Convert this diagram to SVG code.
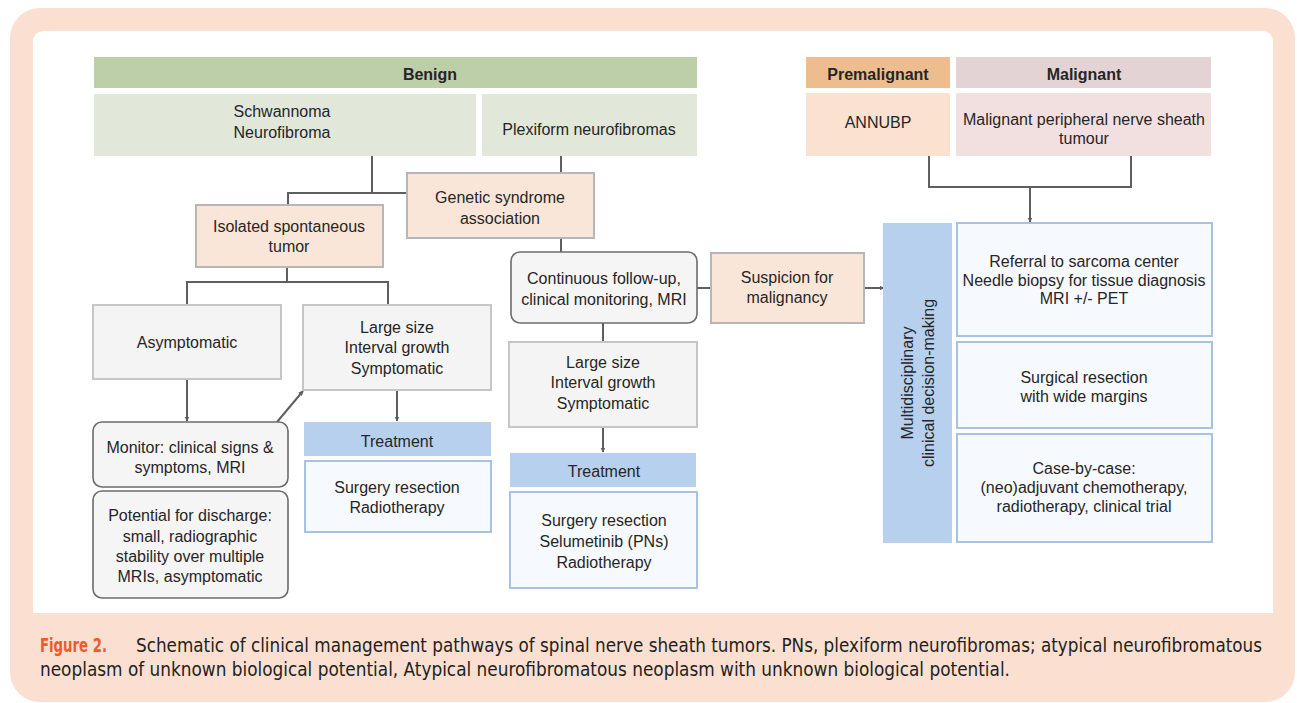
<svg xmlns="http://www.w3.org/2000/svg" width="1297" height="703" viewBox="0 0 1297 703">
<defs>
<marker id="ah" viewBox="0 0 10 10" refX="9" refY="5" markerWidth="5" markerHeight="5" orient="auto" markerUnits="userSpaceOnUse">
<path d="M0,0 L10,5 L0,10 z" fill="#5f5f5f"/>
</marker>
<style>
text{font-family:"Liberation Sans",Arial,Helvetica,sans-serif;font-size:16px;fill:#262626;text-anchor:middle}
.b{font-weight:bold}
.hdrG{fill:#bccfa8}
.subG{fill:#e1e8d9}
.hdrP{fill:#eebd8f}
.subP{fill:#fae1d0}
.hdrM{fill:#e4d3d4}
.subM{fill:#f2e0e1}
.beige{fill:#fae6d8;stroke:#b7b7b7;stroke-width:2}
.gray{fill:#f4f4f4;stroke:#c6c6c6;stroke-width:2}
.rnd{fill:#f5f5f5;stroke:#6c6c6c;stroke-width:1.6}
.bhdr{fill:#b6d0ee}
.bbox{fill:#f6f9fe;stroke:#a9c2e2;stroke-width:2}
.c{fill:none;stroke:#5f5f5f;stroke-width:2}
.cap{font-family:"Liberation Sans Narrow","DejaVu Sans Condensed","Liberation Sans",sans-serif;font-size:19px;text-anchor:start;fill:#231f20}
</style>
</defs>
<!-- frame -->
<path d="M40,8 H1265 A30,30 0 0 1 1295,38 V672 A30,30 0 0 1 1265,702 H40 A30,30 0 0 1 10,672 V38 A30,30 0 0 1 40,8 Z" fill="#fbe0d2"/>
<path d="M43,31 H1263 A10,10 0 0 1 1273,41 V613 H33 V41 A10,10 0 0 1 43,31 Z" fill="#ffffff"/>

<g id="connectors">
<polyline class="c" points="372,156 372,193"/>
<polyline class="c" points="288,204 288,193 406,193"/>
<polyline class="c" points="561,156 561,173"/>
<polyline class="c" points="561,238 561,252"/>
<polyline class="c" points="287,268 287,282"/>
<polyline class="c" points="187,305 187,282 388,282 388,305"/>
<polyline class="c" points="187,379 187,421" marker-end="url(#ah)"/>
<polyline class="c" points="277,422 303,391" marker-end="url(#ah)"/>
<polyline class="c" points="397,390 397,421" marker-end="url(#ah)"/>
<polyline class="c" points="603,323 603,342"/>
<polyline class="c" points="603,427 603,452" marker-end="url(#ah)"/>
<polyline class="c" points="697,288 711,288"/>
<polyline class="c" points="864,288 884,288" marker-end="url(#ah)"/>
<polyline class="c" points="929,156 929,187 1131,187 1131,156"/>
<polyline class="c" points="1030,187 1030,222" marker-end="url(#ah)"/>
</g>

<g id="benign-header"><rect class="hdrG" x="94" y="57" width="603" height="31"/><text class="b" x="430" y="80">Benign</text></g>
<g id="schwannoma"><rect class="subG" x="94" y="94" width="382" height="62"/><text x="282" y="117">Schwannoma</text><text x="282" y="138">Neurofibroma</text></g>
<g id="plexiform"><rect class="subG" x="482" y="94" width="215" height="62"/><text x="589" y="135">Plexiform neurofibromas</text></g>

<g id="premalignant-header"><rect class="hdrP" x="806" y="57" width="144" height="31"/><text class="b" x="878" y="80">Premalignant</text></g>
<g id="malignant-header"><rect class="hdrM" x="956" y="57" width="255" height="31"/><text class="b" x="1084" y="80">Malignant</text></g>
<g id="annubp"><rect class="subP" x="806" y="93" width="144" height="63"/><text x="878" y="128">ANNUBP</text></g>
<g id="mpnst"><rect class="subM" x="956" y="93" width="255" height="63"/><text x="1084" y="125">Malignant peripheral nerve sheath</text><text x="1084" y="144">tumour</text></g>

<g id="isolated"><rect class="beige" x="196" y="205" width="187" height="62"/><text x="289" y="232">Isolated spontaneous</text><text x="289" y="252">tumor</text></g>
<g id="genetic"><rect class="beige" x="407" y="173" width="187" height="65"/><text x="500" y="203">Genetic syndrome</text><text x="500" y="224">association</text></g>
<g id="continuous"><rect class="rnd" x="511" y="252" width="186" height="71" rx="9"/><text x="604" y="284">Continuous follow-up,</text><text x="604" y="305">clinical monitoring, MRI</text></g>
<g id="suspicion"><rect class="beige" x="711" y="253" width="153" height="70"/><text x="787" y="283">Suspicion for</text><text x="787" y="303">malignancy</text></g>

<g id="asymptomatic"><rect class="gray" x="93" y="305" width="188" height="74"/><text x="187" y="348">Asymptomatic</text></g>
<g id="large1"><rect class="gray" x="303" y="305" width="188" height="85"/><text x="397" y="333">Large size</text><text x="397" y="353">Interval growth</text><text x="397" y="374">Symptomatic</text></g>
<g id="monitor"><rect class="rnd" x="93" y="422" width="195" height="65" rx="9"/><text x="190" y="453">Monitor: clinical signs &amp;</text><text x="190" y="473">symptoms, MRI</text></g>
<g id="discharge"><rect class="rnd" x="93" y="491" width="195" height="107" rx="9"/><text x="190" y="521">Potential for discharge:</text><text x="190" y="542">small, radiographic</text><text x="190" y="562">stability over multiple</text><text x="190" y="582">MRIs, asymptomatic</text></g>
<g id="treatment1"><rect class="bhdr" x="304" y="422" width="187" height="34"/><text x="397" y="447">Treatment</text></g>
<g id="therapy1"><rect class="bbox" x="305" y="461" width="186" height="71"/><text x="397" y="493">Surgery resection</text><text x="397" y="513">Radiotherapy</text></g>

<g id="large2"><rect class="gray" x="509" y="342" width="188" height="85"/><text x="603" y="368">Large size</text><text x="603" y="388">Interval growth</text><text x="603" y="409">Symptomatic</text></g>
<g id="treatment2"><rect class="bhdr" x="510" y="453" width="186" height="34"/><text x="604" y="477">Treatment</text></g>
<g id="therapy2"><rect class="bbox" x="510" y="492" width="187" height="96"/><text x="604" y="526">Surgery resection</text><text x="604" y="547">Selumetinib (PNs)</text><text x="604" y="568">Radiotherapy</text></g>

<g id="multidisciplinary"><rect class="bhdr" x="883" y="223" width="69" height="320"/><text transform="translate(913,383) rotate(-90)">Multidisciplinary</text><text transform="translate(934,383) rotate(-90)">clinical decision-making</text></g>
<g id="referral"><rect class="bbox" x="957" y="223" width="255" height="113"/><text x="1084" y="267">Referral to sarcoma center</text><text x="1084" y="286">Needle biopsy for tissue diagnosis</text><text x="1084" y="304">MRI +/- PET</text></g>
<g id="surgical"><rect class="bbox" x="957" y="342" width="255" height="86"/><text x="1084" y="383">Surgical resection</text><text x="1084" y="402">with wide margins</text></g>
<g id="casebycase"><rect class="bbox" x="957" y="434" width="255" height="108"/><text x="1084" y="474">Case-by-case:</text><text x="1084" y="493">(neo)adjuvant chemotherapy,</text><text x="1084" y="512">radiotherapy, clinical trial</text></g>

<g id="caption">
<text class="cap" x="40" y="652" textLength="67" lengthAdjust="spacingAndGlyphs" style="fill:#ee5a2e;font-weight:bold">Figure 2.</text>
<text class="cap" x="136" y="652" textLength="1126" lengthAdjust="spacingAndGlyphs">Schematic of clinical management pathways of spinal nerve sheath tumors. PNs, plexiform neurofibromas; atypical neurofibromatous</text>
<text class="cap" x="40" y="676" textLength="970" lengthAdjust="spacingAndGlyphs">neoplasm of unknown biological potential, Atypical neurofibromatous neoplasm with unknown biological potential.</text>
</g>
</svg>
